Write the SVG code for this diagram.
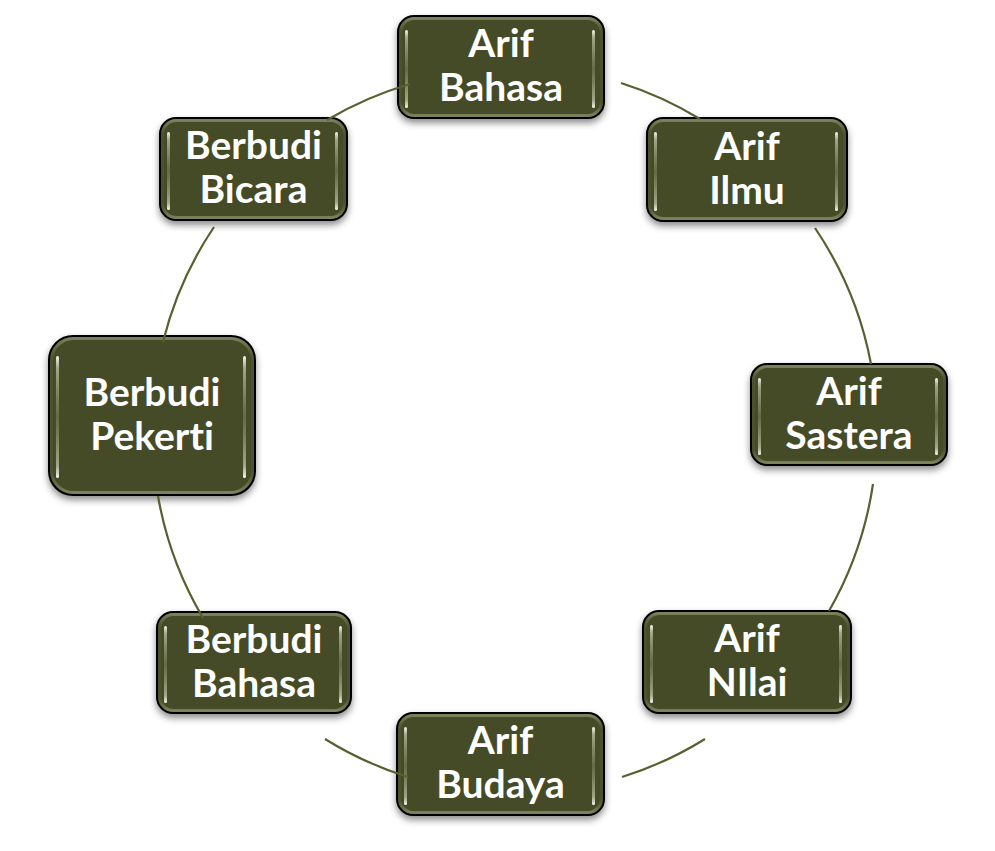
<svg xmlns="http://www.w3.org/2000/svg" width="995" height="851" viewBox="0 0 995 851">
<defs>
<filter id="sh" x="-20%" y="-20%" width="140%" height="150%">
<feDropShadow dx="0" dy="4" stdDeviation="3.5" flood-color="#000" flood-opacity="0.45"/>
</filter>
<linearGradient id="hl" x1="0" y1="0" x2="0" y2="1">
<stop offset="0" stop-color="#ffffff" stop-opacity="0.95"/>
<stop offset="0.1" stop-color="#c9cdb0" stop-opacity="0.7"/>
<stop offset="0.5" stop-color="#8e9370" stop-opacity="0.45"/>
<stop offset="0.9" stop-color="#c9cdb0" stop-opacity="0.7"/>
<stop offset="1" stop-color="#ffffff" stop-opacity="0.95"/>
</linearGradient>
<linearGradient id="rim" x1="0" y1="0" x2="0" y2="1">
<stop offset="0" stop-color="#8a8f6a" stop-opacity="0.8"/>
<stop offset="0.15" stop-color="#5b6136" stop-opacity="0.3"/>
<stop offset="0.85" stop-color="#5b6136" stop-opacity="0.3"/>
<stop offset="1" stop-color="#8a8f6a" stop-opacity="0.8"/>
</linearGradient>
</defs>
<style>
.box{fill:#454b26;stroke:#000;stroke-width:2;filter:url(#sh)}
.rim{fill:none;stroke:url(#rim);stroke-width:3}
.hl{fill:url(#hl)}
.t{font-family:Lato,"Open Sans","Liberation Sans",sans-serif;font-weight:bold;font-size:39px;fill:#fff;text-anchor:middle;font-variant-ligatures:none}
.c{fill:none;stroke:#59602f;stroke-width:2.2}
</style>
<rect width="995" height="851" fill="#fff"/>
<g id="nodes">
<g id="arif-bahasa">
<rect class="box" x="398" y="16" width="206" height="102" rx="16"/>
<rect class="rim" x="400.5" y="18.5" width="201" height="97" rx="14"/>
<rect class="hl" x="405" y="30" width="3" height="78" rx="1.5"/>
<rect class="hl" x="592" y="30" width="3" height="78" rx="1.5"/>
<text class="t" x="501" y="57">Arif</text>
<text class="t" x="501" y="101">Bahasa</text>
</g>
<g id="arif-ilmu">
<rect class="box" x="647" y="118" width="200" height="103" rx="16"/>
<rect class="rim" x="649.5" y="120.5" width="195" height="98" rx="14"/>
<rect class="hl" x="654" y="132" width="3" height="79" rx="1.5"/>
<rect class="hl" x="835" y="132" width="3" height="79" rx="1.5"/>
<text class="t" x="747" y="159.5">Arif</text>
<text class="t" x="747" y="203.5">Ilmu</text>
</g>
<g id="arif-sastera">
<rect class="box" x="751" y="364" width="196" height="101" rx="16"/>
<rect class="rim" x="753.5" y="366.5" width="191" height="96" rx="14"/>
<rect class="hl" x="758" y="378" width="3" height="77" rx="1.5"/>
<rect class="hl" x="935" y="378" width="3" height="77" rx="1.5"/>
<text class="t" x="849" y="404.5">Arif</text>
<text class="t" x="849" y="448.5">Sastera</text>
</g>
<g id="arif-nilai">
<rect class="box" x="643" y="611" width="208" height="102" rx="16"/>
<rect class="rim" x="645.5" y="613.5" width="203" height="97" rx="14"/>
<rect class="hl" x="650" y="625" width="3" height="78" rx="1.5"/>
<rect class="hl" x="839" y="625" width="3" height="78" rx="1.5"/>
<text class="t" x="747" y="652">Arif</text>
<text class="t" x="747" y="696">NIlai</text>
</g>
<g id="arif-budaya">
<rect class="box" x="397" y="713" width="207" height="102" rx="16"/>
<rect class="rim" x="399.5" y="715.5" width="202" height="97" rx="14"/>
<rect class="hl" x="404" y="727" width="3" height="78" rx="1.5"/>
<rect class="hl" x="592" y="727" width="3" height="78" rx="1.5"/>
<text class="t" x="500.5" y="754">Arif</text>
<text class="t" x="500.5" y="798">Budaya</text>
</g>
<g id="berbudi-bahasa">
<rect class="box" x="157" y="612" width="194" height="101" rx="16"/>
<rect class="rim" x="159.5" y="614.5" width="189" height="96" rx="14"/>
<rect class="hl" x="164" y="626" width="3" height="77" rx="1.5"/>
<rect class="hl" x="339" y="626" width="3" height="77" rx="1.5"/>
<text class="t" x="254" y="652.5">Berbudi</text>
<text class="t" x="254" y="696.5">Bahasa</text>
</g>
<g id="berbudi-pekerti">
<rect class="box" x="49" y="336" width="206" height="159" rx="24"/>
<rect class="rim" x="51.5" y="338.5" width="201" height="154" rx="22"/>
<rect class="hl" x="56" y="356" width="3" height="122" rx="1.5"/>
<rect class="hl" x="243" y="356" width="3" height="122" rx="1.5"/>
<text class="t" x="152" y="405.5">Berbudi</text>
<text class="t" x="152" y="449.5">Pekerti</text>
</g>
<g id="berbudi-bicara">
<rect class="box" x="160" y="118" width="187" height="102" rx="16"/>
<rect class="rim" x="162.5" y="120.5" width="182" height="97" rx="14"/>
<rect class="hl" x="167" y="132" width="3" height="78" rx="1.5"/>
<rect class="hl" x="335" y="132" width="3" height="78" rx="1.5"/>
<text class="t" x="253.5" y="159">Berbudi</text>
<text class="t" x="253.5" y="203">Bicara</text>
</g>
</g>
<g id="connectors">
<path class="c" d="M621,83 A362,362 0 0 1 700,119"/>
<path class="c" d="M815,228 A362,362 0 0 1 871,364"/>
<path class="c" d="M873,484 A362,362 0 0 1 829,611"/>
<path class="c" d="M705,739 A362,362 0 0 1 622,777"/>
<path class="c" d="M408,777 A362,362 0 0 1 325,739"/>
<path class="c" d="M203,618 A362,362 0 0 1 158,496"/>
<path class="c" d="M163,342 A362,362 0 0 1 214,227"/>
<path class="c" d="M327,120 A362,362 0 0 1 410,84"/>
</g>
</svg>
